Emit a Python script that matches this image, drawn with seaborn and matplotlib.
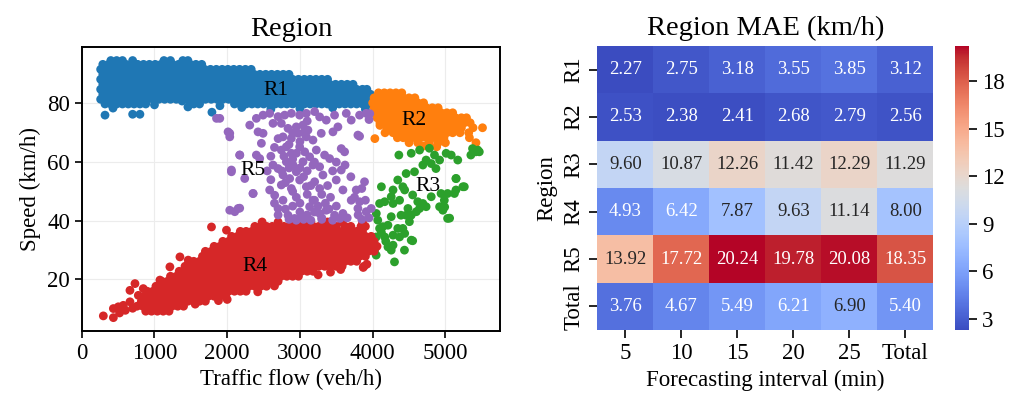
import matplotlib
matplotlib.use("Agg")
import matplotlib.pyplot as plt
import seaborn as sns
import pandas as pd

# ---- scatter data ----
# dense blobs are written row by row: speed -> list of flows
r1_rows = {
    94.6: [400, 480, 560, 700, 1130, 1220, 1390, 1460],
    93.3: [290, 370, 450, 530, 610, 690, 770, 850, 930, 1010, 1090, 1170, 1250, 1330, 1410, 1490, 1570, 1650],
    91.6: [260, 330, 410, 490, 570, 650, 730, 810, 890, 970, 1050, 1130, 1210, 1290, 1370, 1450, 1530, 1610,
           1690, 1770, 1850, 1930, 2010, 2090, 2170, 2250, 2330],
    89.9: [290, 370, 450, 530, 610, 690, 770, 850, 930, 1010, 1090, 1170, 1250, 1330, 1410, 1490, 1570, 1650,
           1730, 1810, 1890, 1970, 2050, 2130, 2210, 2290, 2370, 2450, 2530, 2610, 2690, 2770, 2850],
    88.2: [260, 340, 420, 500, 580, 660, 740, 820, 900, 980, 1060, 1140, 1220, 1300, 1380, 1460, 1540, 1620,
           1700, 1780, 1860, 1940, 2020, 2100, 2180, 2260, 2340, 2420, 2500, 2580, 2660, 2740, 2820, 2900,
           2980, 3060, 3140, 3220, 3300, 3380],
    86.5: [290, 370, 450, 530, 610, 690, 770, 850, 930, 1010, 1090, 1170, 1250, 1330, 1410, 1490, 1570, 1650,
           1730, 1810, 1890, 1970, 2050, 2130, 2210, 2290, 2370, 2450, 2530, 2610, 2690, 2770, 2850, 2930,
           3010, 3090, 3170, 3250, 3330, 3410, 3490, 3570, 3650, 3730],
    84.8: [260, 340, 420, 500, 580, 660, 740, 820, 900, 980, 1060, 1140, 1220, 1300, 1380, 1460, 1540, 1620,
           1700, 1780, 1860, 1940, 2020, 2100, 2180, 2260, 2340, 2420, 2500, 2580, 2660, 2740, 2820, 2900,
           2980, 3060, 3140, 3220, 3300, 3380, 3460, 3540, 3620, 3700, 3780, 3860, 3920],
    83.1: [290, 370, 450, 530, 610, 690, 770, 850, 930, 1010, 1090, 1170, 1250, 1330, 1410, 1490, 1570, 1650,
           1730, 1810, 1890, 1970, 2050, 2130, 2210, 2290, 2370, 2450, 2530, 2610, 2690, 2770, 2850, 2930,
           3010, 3090, 3170, 3250, 3330, 3410, 3490, 3570, 3650, 3730, 3810, 3890, 3970],
    81.4: [260, 340, 420, 500, 580, 660, 740, 820, 900, 980, 1060, 1140, 1220, 1300, 1380, 1460, 1540, 1620,
           1700, 1780, 1860, 1940, 2020, 2100, 2180, 2260, 2340, 2420, 2500, 2580, 2660, 2740, 2820, 2900,
           2980, 3060, 3140, 3220, 3300, 3380, 3460, 3540, 3620, 3700, 3780, 3860, 3940, 4010],
    79.8: [320, 400, 480, 560, 640, 720, 800, 880, 1540, 1620, 2100, 2180, 2260, 2340, 2420, 2500, 2580,
           2660, 2740, 2820, 2900, 2980, 3060, 3140, 3220, 3300, 3380, 3460, 3540, 3620, 3700, 3780, 3860, 3940],
}
r1_extra_flow = [320, 430, 700, 800, 1380, 1460, 1790, 2600, 3000, 3450, 3900, 1000, 1900, 2200]
r1_extra_speed = [76.0, 78.4, 76.3, 76.3, 80.8, 78.8, 77.0, 78.0, 78.2, 78.5, 78.0, 79.5, 79.2, 78.6]

r2_rows = {
    83.6: [4080, 4160, 4240, 4320, 4400],
    81.9: [4020, 4100, 4180, 4260, 4340, 4420, 4500, 4580],
    80.2: [4000, 4060, 4140, 4220, 4300, 4380, 4460, 4540, 4620, 4700],
    78.5: [4020, 4100, 4180, 4260, 4340, 4420, 4500, 4580, 4660, 4740, 4820, 4900],
    76.8: [4020, 4060, 4140, 4220, 4300, 4380, 4460, 4540, 4620, 4700, 4780, 4860, 4940, 5020, 5100],
    75.1: [4060, 4100, 4180, 4260, 4340, 4420, 4500, 4580, 4660, 4740, 4820, 4900, 4980, 5060, 5140,
           5220, 5290],
    73.4: [4100, 4140, 4220, 4300, 4380, 4460, 4540, 4620, 4700, 4780, 4860, 4940, 5020, 5100, 5180,
           5260, 5340],
    71.7: [4200, 4260, 4340, 4420, 4500, 4580, 4660, 4740, 4820, 4900, 4980, 5060, 5140, 5220, 5380, 5510],
    70.0: [4280, 4380, 4460, 4540, 4620, 4700, 4780, 4860, 4940, 5020, 5100, 5200, 5320],
    68.3: [4340, 4420, 4500, 4580, 4660, 4740, 4820, 4900, 4980, 5330],
    66.6: [4500, 4620, 4780, 4900, 5000, 5420],
}
r2_extra_flow = [4030, 4170, 4100, 4880, 4700]
r2_extra_speed = [68.0, 70.0, 72.5, 65.2, 65.5]

r3_flow = [4360, 4530, 4645, 4780, 4850, 4735, 4690, 4805, 4920, 5010, 5080, 5170, 5350, 5420, 5445,
           4870, 4575, 4460, 4345, 4415, 4280, 4255, 4120, 4165, 4280, 4370, 4440, 4550, 4620, 4690,
           4805, 4940, 5030, 5145, 5240, 5145, 4985, 4920, 4965, 5030, 4485, 4460, 4505, 4390, 4255,
           4210, 4140, 4095, 4050, 4165, 4280, 4370, 4440, 4530, 4280, 4210, 4255, 4025, 4005, 4345,
           4415, 4095, 4070, 4050, 4530, 4600, 4645, 4735, 4300, 4048, 4437, 4550, 5058, 4990, 5147,
           5260, 5124, 5466, 5373, 4120, 4180]
r3_speed = [62.4, 63.0, 64.1, 64.7, 62.4, 60.7, 59.0, 59.5, 60.7, 63.0, 62.4, 60.7, 62.4, 63.5, 64.1,
            57.8, 56.7, 56.1, 53.9, 51.6, 50.5, 48.2, 51.6, 46.5, 45.9, 47.0, 50.5, 48.8, 46.5, 45.9,
            48.2, 49.3, 49.3, 50.5, 51.6, 54.4, 47.0, 44.8, 43.6, 40.8, 44.2, 41.9, 39.7, 41.9, 41.4,
            38.5, 38.0, 37.4, 34.5, 34.5, 35.1, 34.5, 35.7, 33.4, 31.7, 31.1, 30.0, 30.0, 33.4, 37.4,
            37.4, 45.9, 40.2, 42.5, 41.9, 43.1, 44.2, 44.8, 26.0, 28.3, 30.0, 33.2, 40.9, 44.7, 54.4,
            51.6, 49.3, 63.5, 64.6, 36.0, 33.0]

r4_rows = {
    9.2: [880, 960, 1040, 1120, 1200],
    10.9: [760, 840, 920, 1000, 1080, 1160, 1240, 1320, 1400],
    12.6: [820, 900, 980, 1060, 1140, 1220, 1300, 1380, 1460, 1540, 1620, 1700],
    14.3: [860, 940, 1020, 1100, 1180, 1260, 1340, 1420, 1500, 1580, 1660, 1740, 1820, 1900, 1980],
    16.0: [900, 980, 1060, 1140, 1220, 1300, 1380, 1460, 1540, 1620, 1700, 1780, 1860, 1940, 2020, 2100,
           2180, 2260],
    17.7: [1020, 1100, 1180, 1260, 1340, 1420, 1500, 1580, 1660, 1740, 1820, 1900, 1980, 2060, 2140, 2220,
           2300, 2380, 2460, 2540],
    19.4: [1100, 1180, 1260, 1340, 1420, 1500, 1580, 1660, 1740, 1820, 1900, 1980, 2060, 2140, 2220, 2300,
           2380, 2460, 2540, 2620, 2700],
    21.1: [1220, 1300, 1380, 1460, 1540, 1620, 1700, 1780, 1860, 1940, 2020, 2100, 2180, 2260, 2340, 2420,
           2500, 2580, 2660, 2740, 2820, 2900, 2980],
    22.8: [1340, 1420, 1500, 1580, 1660, 1740, 1820, 1900, 1980, 2060, 2140, 2220, 2300, 2380, 2460, 2540,
           2620, 2700, 2780, 2860, 2940, 3020, 3100, 3180],
    24.5: [1420, 1500, 1580, 1660, 1740, 1820, 1900, 1980, 2060, 2140, 2220, 2300, 2380, 2460, 2540, 2620,
           2700, 2780, 2860, 2940, 3020, 3100, 3180, 3260, 3340, 3420, 3500, 3580, 3880],
    26.2: [1540, 1620, 1700, 1780, 1860, 1940, 2020, 2100, 2180, 2260, 2340, 2420, 2500, 2580, 2660, 2740,
           2820, 2900, 2980, 3060, 3140, 3220, 3300, 3380, 3460, 3540, 3620, 3700, 3780],
    27.9: [1660, 1740, 1820, 1900, 1980, 2060, 2140, 2220, 2300, 2380, 2460, 2540, 2620, 2700, 2780, 2860,
           2940, 3020, 3100, 3180, 3260, 3340, 3420, 3500, 3580, 3660, 3740, 3820, 3900],
    29.6: [1700, 1780, 1860, 1940, 2020, 2100, 2180, 2260, 2340, 2420, 2500, 2580, 2660, 2740, 2820, 2900,
           2980, 3060, 3140, 3220, 3300, 3380, 3460, 3540, 3620, 3700, 3780, 3860, 3940, 4020],
    31.3: [1820, 1900, 1980, 2060, 2140, 2220, 2300, 2380, 2460, 2540, 2620, 2700, 2780, 2860, 2940, 3020,
           3100, 3180, 3260, 3340, 3420, 3500, 3580, 3660, 3740, 3820, 3900, 3980, 4060],
    33.0: [1940, 2020, 2100, 2180, 2260, 2340, 2420, 2500, 2580, 2660, 2740, 2820, 2900, 2980, 3060, 3140,
           3220, 3300, 3380, 3460, 3540, 3620, 3700, 3780, 3860, 3940, 4020],
    34.7: [2060, 2140, 2220, 2300, 2380, 2460, 2540, 2620, 2700, 2780, 2860, 2940, 3020, 3100, 3180, 3260,
           3340, 3420, 3500, 3580, 3660, 3740, 3820, 3900, 3980],
    36.4: [2180, 2260, 2340, 2420, 2500, 2580, 2660, 2740, 2820, 2900, 2980, 3060, 3140, 3220, 3300, 3380,
           3460, 3540, 3620, 3700, 3780, 3860],
    38.1: [2380, 2460, 2540, 2620, 2700, 2780, 2860, 2940, 3020, 3100, 3180, 3260, 3340, 3420, 3500, 3620,
           3700, 3840, 3900],
    39.6: [2480, 2700, 2900, 3020, 3150, 3380, 3580, 3860],
}
r4_extra_flow = [297, 435, 435, 503, 572, 663, 663, 732, 846, 778, 1029, 1075, 1212, 1350, 1464, 1784, 1990,
                 600, 700, 520, 2420, 2650, 3250, 3420, 3560, 3870, 3920, 1880, 2000, 1560]
r4_extra_speed = [7.6, 7.0, 10.1, 10.7, 11.2, 12.4, 16.3, 18.6, 16.9, 14.6, 12.9, 19.8, 24.3, 27.7, 26.6,
                  37.9, 36.8, 9.5, 10.2, 8.6, 15.8, 17.8, 21.6, 22.5, 23.4, 24.1, 25.2, 12.8, 13.2, 11.6]

r5_flow = [2493, 2584, 2699, 2790, 2882, 2996, 3088, 3202, 3271, 3362, 3476, 3637, 3705, 3820, 3911,
           2401, 2310, 2424, 2012, 2035, 1898, 2630, 2744, 2836, 2950, 3042, 3110, 2767, 2882, 2973,
           3088, 3179, 3293, 3454, 3522, 3797, 2493, 2470, 2744, 2813, 2882, 2996, 3065, 3133, 3225,
           3339, 3408, 3614, 3568, 2447, 2401, 2173, 2813, 2905, 3042, 3179, 3271, 2630, 2699, 2058,
           2767, 2859, 2950, 2996, 2882, 3088, 3202, 3271, 3316, 3568, 3499, 3591, 3774, 3888, 3820,
           2356, 2584, 2653, 2744, 2767, 2699, 2836, 2927, 3019, 3133, 3179, 3271, 3362, 3476, 3591,
           3705, 3797, 3911, 3980, 2150, 2104, 1853, 2035, 2172, 2058, 2241, 2355, 2035, 2172,
           2850, 2950, 3050, 3150, 3300, 3450, 3550, 3650, 3850, 3950, 3960, 3950, 3820,
           2780, 2850, 2900, 2950, 3000, 3050, 2750, 2800, 2900, 2950, 3000, 3100, 3200, 3250, 3300,
           3350, 3150, 3100, 3200, 2850, 2900, 3000, 3050, 3100, 2700, 2650, 2600, 2550, 2600, 2650,
           2700, 2800, 2900, 3000, 3100, 3200, 3300, 3400, 3500, 3420, 3380, 3450, 3500, 3620, 3700,
           3750, 3850, 3900, 3800]
r5_speed = [76.0, 76.6, 75.5, 76.0, 76.6, 76.0, 76.6, 77.2, 75.4, 74.3, 76.0, 76.6, 74.3, 76.0, 76.6,
            74.9, 72.6, 70.3, 70.3, 68.6, 74.9, 73.2, 73.2, 71.5, 72.0, 72.6, 70.9, 68.6, 68.1, 69.8,
            68.6, 67.5, 69.8, 70.3, 72.0, 69.2, 69.8, 66.4, 64.1, 65.2, 63.0, 65.2, 63.5, 61.8, 64.1,
            62.4, 61.2, 63.5, 64.6, 61.2, 62.4, 62.4, 60.1, 59.0, 60.1, 59.0, 58.4, 59.0, 57.8, 57.3,
            55.6, 54.4, 56.7, 53.9, 51.0, 51.6, 53.3, 51.0, 55.6, 57.3, 53.9, 50.5, 50.5, 53.3, 46.5,
            49.3, 50.5, 48.7, 52.2, 47.0, 44.2, 41.9, 40.8, 41.4, 44.8, 47.0, 42.5, 43.6, 41.9, 42.5,
            47.0, 44.2, 43.1, 44.2, 44.2, 43.1, 74.9, 69.8, 62.4, 56.7, 54.4, 49.3, 43.6, 44.3,
            40.5, 40.2, 40.5, 40.2, 40.5, 40.2, 40.8, 41.0, 40.5, 41.0, 76.5, 74.5, 68.8,
            62.0, 58.0, 61.0, 63.0, 58.0, 55.0, 57.0, 53.0, 50.0, 48.0, 46.0, 49.0, 47.0, 45.0, 49.0,
            46.0, 52.0, 57.0, 60.0, 66.0, 70.0, 67.0, 70.0, 74.0, 68.0, 65.0, 62.0, 57.0, 54.0, 46.0,
            42.0, 44.0, 45.0, 43.0, 42.0, 43.0, 41.0, 44.0, 45.0, 48.0, 52.0, 57.0, 60.0, 59.0, 55.0,
            48.0, 51.0, 47.0, 42.0]

region_labels = ["R1", "R2", "R3", "R4", "R5"]
label_flow = [2676, 4575, 4758, 2380, 2355]
label_speed = [84.5, 74.3, 51.6, 24.3, 57.3]

# ---- heatmap data ----
intervals = ["5", "10", "15", "20", "25", "Total"]
regions = ["R1", "R2", "R3", "R4", "R5", "Total"]
mae_r1 = [2.27, 2.75, 3.18, 3.55, 3.85, 3.12]
mae_r2 = [2.53, 2.38, 2.41, 2.68, 2.79, 2.56]
mae_r3 = [9.60, 10.87, 12.26, 11.42, 12.29, 11.29]
mae_r4 = [4.93, 6.42, 7.87, 9.63, 11.14, 8.00]
mae_r5 = [13.92, 17.72, 20.24, 19.78, 20.08, 18.35]
mae_total = [3.76, 4.67, 5.49, 6.21, 6.90, 5.40]


def unroll(rows, extra_f, extra_s):
    f, s = [], []
    for sp, fl in rows.items():
        f += fl
        s += [sp] * len(fl)
    return f + extra_f, s + extra_s


parts = [
    ("R1",) + unroll(r1_rows, r1_extra_flow, r1_extra_speed),
    ("R2",) + unroll(r2_rows, r2_extra_flow, r2_extra_speed),
    ("R3", r3_flow, r3_speed),
    ("R4",) + unroll(r4_rows, r4_extra_flow, r4_extra_speed),
    ("R5", r5_flow, r5_speed),
]
scatter_df = pd.concat([pd.DataFrame({"flow": f, "speed": s, "region": name}) for name, f, s in parts],
                       ignore_index=True)

mae_df = pd.DataFrame([mae_r1, mae_r2, mae_r3, mae_r4, mae_r5, mae_total], index=regions, columns=intervals)

sns.set_theme(style="ticks")
plt.rcParams["font.family"] = ["Liberation Serif", "DejaVu Serif"]
plt.rcParams["axes.edgecolor"] = "black"
plt.rcParams["axes.labelcolor"] = "black"
plt.rcParams["text.color"] = "black"
plt.rcParams["xtick.color"] = "black"
plt.rcParams["ytick.color"] = "black"

fig = plt.figure(figsize=(10.09, 4.03), dpi=100)
ax1 = fig.add_axes([0.081, 0.179, 0.4145, 0.705])
ax2 = fig.add_axes([0.592, 0.181, 0.333, 0.705])
cax = fig.add_axes([0.9465, 0.181, 0.0139, 0.705])

# left: scatter of regions
sns.scatterplot(data=scatter_df, x="flow", y="speed", hue="region", palette="tab10", s=40, linewidth=0,
                alpha=1, legend=False, ax=ax1, zorder=2)
for lab, fx, sy in zip(region_labels, label_flow, label_speed):
    ax1.text(fx, sy, lab, ha="center", va="center", fontsize=15.5, color="black", zorder=5)
ax1.set_xlim(0, 5750)
ax1.set_ylim(2.5, 99.3)
ax1.set_xticks([0, 1000, 2000, 3000, 4000, 5000])
ax1.set_yticks([20, 40, 60, 80])
ax1.grid(True, color="#ececec", linewidth=0.8, zorder=0)
ax1.set_axisbelow(True)
for sp in ax1.spines.values():
    sp.set_linewidth(1.4)
ax1.tick_params(labelsize=16.5, length=5, width=1.2)
ax1.set_xlabel("Traffic flow (veh/h)", fontsize=16.5)
ax1.set_ylabel("Speed (km/h)", fontsize=16.5)
ax1.set_title("Region", fontsize=20.5, pad=8, color="black")

# right: heatmap of MAE
sns.heatmap(mae_df, annot=True, fmt=".2f", cmap="coolwarm", ax=ax2, cbar_ax=cax,
            annot_kws={"size": 13.5})
ax2.set_title("Region MAE (km/h)", fontsize=20.5, pad=8, color="black")
ax2.set_xlabel("Forecasting interval (min)", fontsize=16.5)
ax2.set_ylabel("Region", fontsize=16.5)
ax2.tick_params(labelsize=16.5, length=6, width=1.2)
ax2.set_yticklabels(regions, rotation=90, va="center")
ax2.set_xticklabels(intervals, rotation=0)
cax.set_yticks([3, 6, 9, 12, 15, 18])
cax.tick_params(labelsize=16.5, length=6, width=1.2)

fig.savefig("out.png", dpi=100)
